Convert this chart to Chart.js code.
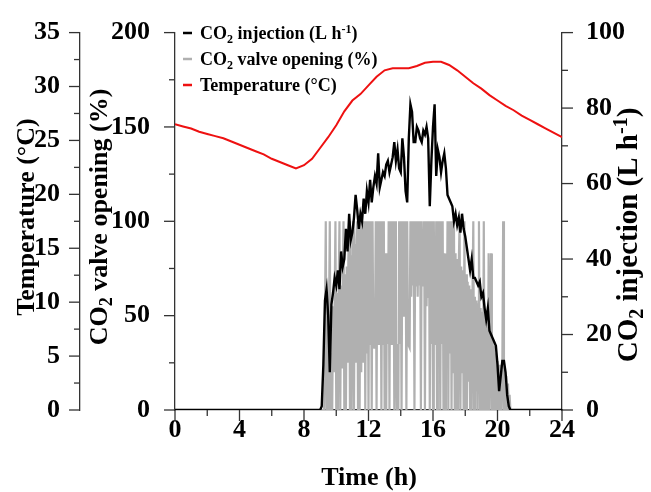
<!DOCTYPE html>
<html>
<head>
<meta charset="utf-8">
<title>CO2 injection, valve opening and temperature</title>
<script src="https://cdn.jsdelivr.net/npm/chart.js"></script>
<style>
    body { margin: 0; background: #fff; }
    #wrap { width: 651px; height: 492px; }
</style>
</head>
<body>
<div id="wrap"><canvas id="co2Chart" width="651" height="492"></canvas></div>
<script>
// tick labels
const timeLabels = [0, 4, 8, 12, 16, 20, 24];
const tempLabels = [0, 5, 10, 15, 20, 25, 30, 35];
const valveLabels = [0, 50, 100, 150, 200];
const injLabels = [0, 20, 40, 60, 80, 100];

// temperature (°C), every 0.5 h from 0 h
const tempStart = 0, tempStep = 0.5;
const temperature = [
    26.5, 26.3, 26.1, 25.8, 25.6, 25.4, 25.2, 24.9, 24.6, 24.3,
    24.0, 23.7, 23.3, 23.0, 22.7, 22.4, 22.7, 23.3, 24.3, 25.3,
    26.4, 27.7, 28.7, 29.3, 30.1, 30.9, 31.5, 31.7, 31.7, 31.7,
    31.9, 32.2, 32.3, 32.3, 32.0, 31.5, 30.9, 30.3, 29.8, 29.2,
    28.7, 28.2, 27.8, 27.3, 26.9, 26.5, 26.1, 25.7, 25.3
];

// CO2 injection (L h-1), every 0.1 h from 9 h to 21 h
const injStart = 9.0, injStep = 0.1;
const injection = [
    0, 1, 12, 29, 32, 25, 10, 28, 31, 35,
    33, 37, 32, 42, 38, 40, 48, 42, 52, 45,
    47, 51, 57, 53, 48, 52, 50, 56, 52, 58,
    55, 61, 55, 59, 62, 60, 68, 59, 61, 63,
    62, 65, 66, 63, 65, 67, 71, 66, 69, 64,
    63, 72, 67, 58, 55, 72, 81, 79, 71, 71,
    75, 74, 72, 71, 74, 73, 75, 72, 54, 66,
    75, 81, 62, 69, 67, 63, 66, 68, 64, 57,
    56, 55, 54, 50, 52, 49, 51, 47, 52, 48,
    46, 43, 40, 37, 40, 35, 35, 34, 33, 34,
    30, 31, 27, 24, 27, 21, 20, 19, 18, 17,
    12, 5, 9, 13, 13, 10, 4, 1, 0, 0,
    0
];

// CO2 valve opening (%), every 0.05 h from 9 h to 21 h
const valveStart = 9.0, valveStep = 0.05;
const valve = [
    0, 0, 0, 0, 0, 0, 0, 100, 0, 55,
    0, 50, 100, 0, 30, 0, 55, 20, 58, 100,
    0, 62, 0, 64, 100, 0, 66, 22, 68, 100,
    0, 72, 0, 76, 25, 80, 100, 0, 82, 0,
    86, 100, 0, 88, 25, 90, 100, 0, 100, 0,
    100, 20, 100, 25, 95, 100, 0, 100, 30, 100,
    0, 100, 35, 100, 0, 100, 35, 33, 35, 100,
    0, 100, 35, 100, 66, 100, 0, 100, 35, 100,
    0, 83, 0, 83, 35, 100, 0, 100, 35, 100,
    35, 100, 0, 100, 35, 0, 35, 0, 100, 35,
    100, 0, 100, 50, 100, 55, 100, 0, 100, 35,
    35, 33, 100, 60, 100, 66, 100, 0, 100, 66,
    100, 60, 100, 66, 100, 0, 100, 66, 66, 100,
    0, 100, 55, 100, 60, 100, 0, 100, 35, 100,
    0, 100, 35, 35, 100, 0, 100, 35, 100, 0,
    100, 35, 100, 0, 83, 0, 83, 35, 100, 0,
    100, 30, 100, 0, 100, 20, 100, 0, 83, 0,
    80, 0, 78, 100, 0, 76, 20, 74, 0, 100,
    0, 72, 0, 68, 15, 66, 0, 64, 0, 62,
    100, 0, 60, 10, 58, 0, 56, 100, 0, 54,
    0, 52, 0, 100, 0, 48, 0, 44, 0, 83,
    0, 40, 83, 0, 36, 0, 34, 0, 30, 0,
    26, 0, 24, 0, 22, 0, 24, 100, 0, 20,
    0, 18, 0, 14, 0, 8, 0, 0, 0, 0,
    0
];

function toPoints(values, start, step) {
    return values.map((v, i) => ({ x: +(start + i * step).toFixed(3), y: v }));
}

const serif = '"Liberation Serif", "Times New Roman", serif';
const fnt = size => 'bold ' + size + 'px ' + serif;

// text with sub/superscripts, centred (or left aligned) on x, baseline y
function drawRich(ctx, parts, x, y, size, angle, align) {
    const small = Math.round(size * 0.68);
    ctx.save();
    ctx.translate(x, y);
    ctx.rotate(angle);
    let total = 0;
    parts.forEach(p => {
        ctx.font = fnt(p.sub || p.sup ? small : size);
        p.w = ctx.measureText(p.t).width;
        total += p.w;
    });
    let cx = align === 'left' ? 0 : -total / 2;
    ctx.fillStyle = '#000';
    ctx.textBaseline = 'alphabetic';
    ctx.textAlign = 'left';
    parts.forEach(p => {
        ctx.font = fnt(p.sub || p.sup ? small : size);
        const dy = p.sub ? size * 0.2 : p.sup ? -size * 0.36 : 0;
        ctx.fillText(p.t, cx, dy);
        cx += p.w;
    });
    ctx.restore();
}

const injTitle = [{ t: 'CO' }, { t: '2', sub: 1 }, { t: ' injection (L h' }, { t: '-1', sup: 1 }, { t: ')' }];
const valveTitle = [{ t: 'CO' }, { t: '2', sub: 1 }, { t: ' valve opening (%)' }];
const tempTitle = [{ t: 'Temperature (°C)' }];

const majorLabels = { x: timeLabels, yTemp: tempLabels, yValve: valveLabels, yInj: injLabels };

const tickMarks = {
    id: 'tickMarks',
    afterDraw(chart) {
        const ctx = chart.ctx;
        ctx.save();
        ctx.strokeStyle = '#333';
        ctx.lineWidth = 1.3;
        Object.keys(majorLabels).forEach(id => {
            const s = chart.scales[id];
            s.ticks.forEach(t => {
                const major = majorLabels[id].some(m => Math.abs(m - t.value) < 1e-6);
                const len = major ? 11 : 6;
                const p = s.getPixelForValue(t.value);
                ctx.beginPath();
                if (id === 'x') { ctx.moveTo(p, s.top); ctx.lineTo(p, s.top + len); }
                else if (s.position === 'left') { ctx.moveTo(s.right, p); ctx.lineTo(s.right - len, p); }
                else { ctx.moveTo(s.left, p); ctx.lineTo(s.left + len, p); }
                ctx.stroke();
            });
        });
        ctx.restore();
    }
};

const titlesAndLegend = {
    id: 'titlesAndLegend',
    afterDraw(chart) {
        const ctx = chart.ctx;
        drawRich(ctx, [{ t: 'Time (h)' }], 369, 485, 26, 0);
        drawRich(ctx, tempTitle, 33.5, 217, 26, -Math.PI / 2);
        drawRich(ctx, valveTitle, 106.5, 217, 26, -Math.PI / 2);
        drawRich(ctx, injTitle, 637, 235, 29, -Math.PI / 2);

        const rows = [injTitle, valveTitle, tempTitle];
        chart.data.datasets.forEach((ds, i) => {
            const base = 39 + i * 26;
            ctx.save();
            ctx.strokeStyle = ds.borderColor;
            ctx.lineWidth = 2.5;
            ctx.beginPath();
            ctx.moveTo(183, base - 6);
            ctx.lineTo(192, base - 6);
            ctx.stroke();
            ctx.restore();
            drawRich(ctx, rows[i], 200, base, 18, 0, 'left');
        });
    }
};

const tickFont = { family: serif, size: 26, weight: 'bold' };
const axisBorder = { display: true, color: '#333', width: 1.3 };

function yAxis(pos, weight, max, step, labels, pad, width) {
    return {
        type: 'linear',
        position: pos,
        weight: weight,
        min: 0,
        max: max,
        grid: { display: false },
        border: axisBorder,
        ticks: {
            stepSize: step,
            autoSkip: false,
            padding: pad,
            color: '#000',
            font: tickFont,
            callback: v => labels.includes(v) ? v : ''
        },
        afterFit: s => { s.width = width; }
    };
}

new Chart(document.getElementById('co2Chart'), {
    type: 'line',
    data: {
        datasets: [{
            label: 'CO2 injection (L h-1)',
            data: [{ x: 0, y: 0 }, ...toPoints(injection, injStart, injStep), { x: 24, y: 0 }],
            yAxisID: 'yInj',
            borderColor: '#000',
            borderWidth: 2.4,
            pointRadius: 0
        }, {
            label: 'CO2 valve opening (%)',
            data: [{ x: 0, y: 0 }, ...toPoints(valve, valveStart, valveStep), { x: 24, y: 0 }],
            yAxisID: 'yValve',
            borderColor: '#b0b0b0',
            borderWidth: 2.2,
            pointRadius: 0
        }, {
            label: 'Temperature (°C)',
            data: toPoints(temperature, tempStart, tempStep),
            yAxisID: 'yTemp',
            borderColor: '#ee1111',
            borderWidth: 2,
            pointRadius: 0
        }]
    },
    options: {
        responsive: false,
        animation: false,
        layout: { padding: { top: 24 } },
        plugins: {
            legend: { display: false },
            tooltip: { enabled: false }
        },
        scales: {
            x: {
                type: 'linear',
                position: 'bottom',
                min: 0,
                max: 24,
                grid: { display: false },
                border: axisBorder,
                ticks: {
                    stepSize: 2,
                    autoSkip: false,
                    maxRotation: 0,
                    padding: 1,
                    color: '#000',
                    font: { family: serif, size: 26, weight: 'bold', lineHeight: 0.9 },
                    callback: v => timeLabels.includes(v) ? v : ''
                },
                afterFit: s => { s.height = 82; }
            },
            yValve: yAxis('left', 0, 200, 25, valveLabels, 17, 95),
            yTemp: yAxis('left', 1, 35, 2.5, tempLabels, 12, 80),
            yInj: yAxis('right', 0, 100, 10, injLabels, 16, 89)
        }
    },
    plugins: [tickMarks, titlesAndLegend]
});
</script>
</body>
</html>
